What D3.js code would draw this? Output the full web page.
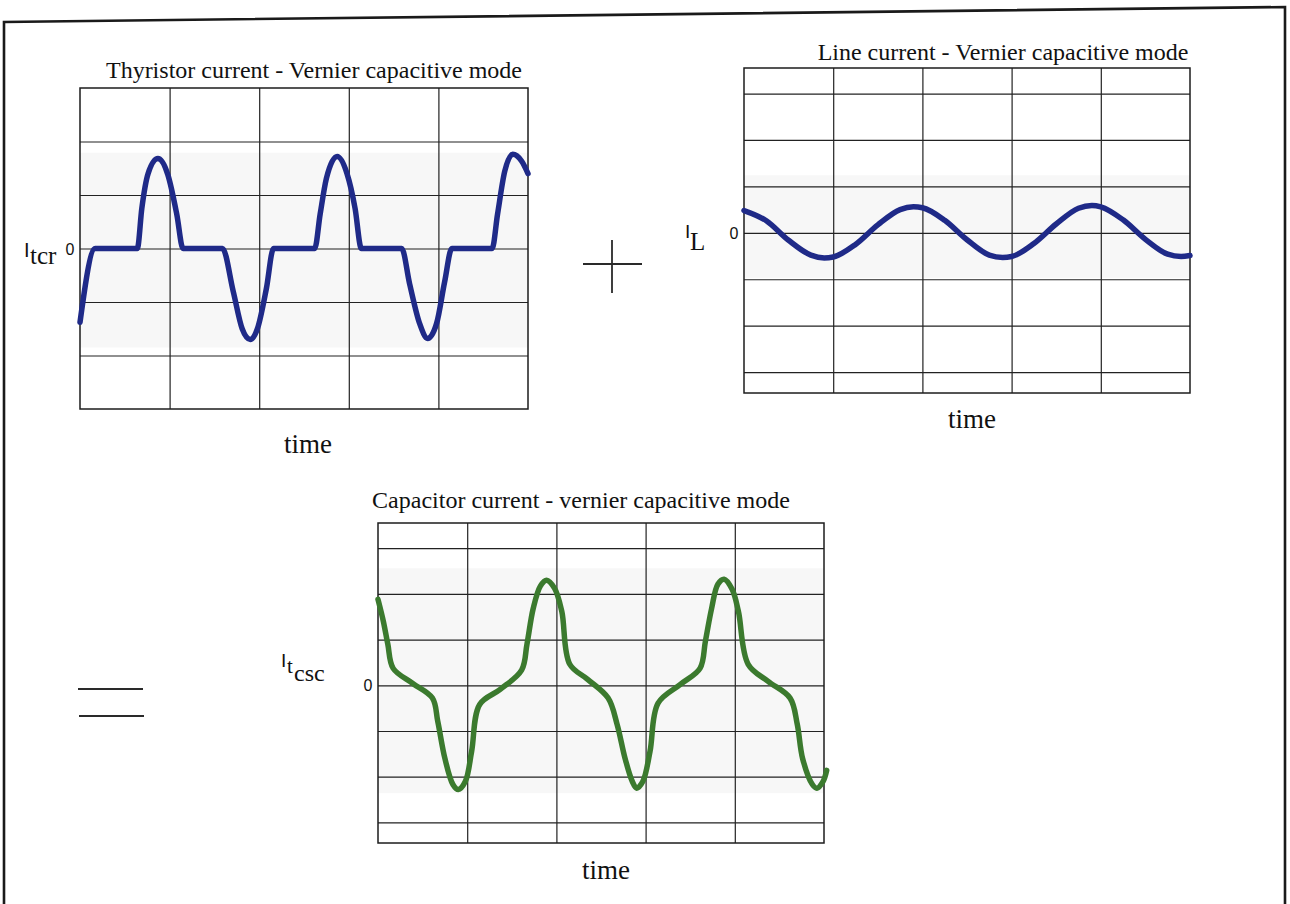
<!DOCTYPE html>
<html>
<head>
<meta charset="utf-8">
<script src="https://cdn.jsdelivr.net/npm/d3@7"></script>
<style>
  html, body { margin: 0; padding: 0; background: #ffffff; }
  svg { display: block; }
  .serif { font-family: "Liberation Serif", "Times New Roman", serif; fill: #111; }
  .sans { font-family: "Liberation Sans", Arial, sans-serif; fill: #111; }
</style>
</head>
<body>
<svg id="chart" width="1290" height="904"></svg>
<script>
// Time axis: five grid divisions per scope
const timeDomain = [0, 5];
const timeGrid = [1, 2, 3, 4];
const zeroTickLabel = "0";

// Thyristor (TCR) current, vernier capacitive mode
const tcrTime  = [0.00, 0.17, 0.64, 0.69, 0.76, 0.87, 0.98, 1.08, 1.15, 1.59, 1.71, 1.81, 1.90, 1.98, 2.08, 2.16,
                  2.62, 2.68, 2.75, 2.87, 2.98, 3.07, 3.14, 3.59, 3.68, 3.79, 3.88, 3.98, 4.07, 4.15, 4.60, 4.66,
                  4.74, 4.83, 4.93, 5.00];
const tcrValue = [-1.38, 0.00, 0.00, 0.75, 1.40, 1.68, 1.38, 0.64, 0.00, 0.00, -0.80, -1.50, -1.70, -1.50, -0.75, 0.00,
                  0.00, 0.64, 1.31, 1.72, 1.40, 0.75, 0.00, 0.00, -0.67, -1.40, -1.68, -1.40, -0.62, 0.00, 0.00, 0.64,
                  1.44, 1.76, 1.63, 1.40];

// Line current, vernier capacitive mode
const lineTime  = [0.00, 0.25, 0.50, 0.75, 0.90, 1.00, 1.25, 1.50, 1.75, 1.90, 2.00, 2.25, 2.50, 2.75, 2.90, 3.00,
                   3.25, 3.50, 3.75, 3.90, 4.00, 4.25, 4.50, 4.75, 4.90, 5.00];
const lineValue = [0.48, 0.26, -0.16, -0.48, -0.54, -0.52, -0.25, 0.17, 0.50, 0.56, 0.54, 0.27, -0.15, -0.48, -0.53, -0.51,
                   -0.23, 0.19, 0.53, 0.59, 0.56, 0.28, -0.14, -0.46, -0.51, -0.49];

// Capacitor (TCSC) current, vernier capacitive mode
const cscTime  = [0.00, 0.06, 0.11, 0.17, 0.39, 0.61, 0.67, 0.75, 0.84, 0.90, 0.98, 1.05, 1.14, 1.37, 1.61, 1.67,
                  1.74, 1.82, 1.89, 1.98, 2.06, 2.15, 2.35, 2.58, 2.68, 2.77, 2.85, 2.90, 2.97, 3.05, 3.14, 3.39,
                  3.61, 3.67, 3.74, 3.81, 3.88, 3.97, 4.04, 4.15, 4.37, 4.62, 4.70, 4.76, 4.87, 4.92, 4.99, 5.03];
const cscValue = [1.88, 1.40, 0.90, 0.37, 0.04, -0.28, -0.79, -1.60, -2.17, -2.28, -2.10, -1.44, -0.42, -0.09, 0.33, 0.90,
                  1.68, 2.17, 2.30, 2.12, 1.62, 0.46, 0.13, -0.28, -0.85, -1.60, -2.10, -2.25, -2.10, -1.44, -0.39, 0.02,
                  0.37, 0.96, 1.68, 2.21, 2.32, 2.10, 1.62, 0.46, 0.09, -0.28, -0.85, -1.60, -2.17, -2.25, -2.10, -1.86];

const svg = d3.select("#chart");

// Page frame (slightly tilted top edge)
svg.append("path")
  .attr("d", d3.line()([[4, 904], [4, 22], [1285, 7], [1285, 904]]))
  .attr("fill", "none").attr("stroke", "#1a1a1a").attr("stroke-width", 2.6);

function drawScope(o) {
  const x = d3.scaleLinear().domain(timeDomain).range([o.left, o.right]);
  const y = d3.scaleLinear().domain(o.yDomain).range([o.bottom, o.top]);
  const g = svg.append("g");

  // faint trace band
  g.append("rect")
    .attr("x", o.left).attr("width", o.right - o.left)
    .attr("y", y(o.band[1])).attr("height", y(o.band[0]) - y(o.band[1]))
    .attr("fill", "#f7f7f7");

  // grid
  const gx = g.append("g").attr("transform", `translate(0,${o.bottom})`)
    .call(d3.axisBottom(x).tickValues(timeGrid).tickSize(-(o.bottom - o.top)).tickFormat(""));
  const gy = g.append("g").attr("transform", `translate(${o.left},0)`)
    .call(d3.axisLeft(y).tickValues(o.yGrid).tickSize(-(o.right - o.left)).tickFormat(""));
  [gx, gy].forEach(a => {
    a.select(".domain").remove();
    a.selectAll("line").attr("stroke", "#222").attr("stroke-width", 1.2);
  });

  g.append("rect")
    .attr("x", o.left).attr("y", o.top)
    .attr("width", o.right - o.left).attr("height", o.bottom - o.top)
    .attr("fill", "none").attr("stroke", "#1c1c1c").attr("stroke-width", 1.5);

  // waveform
  const line = d3.line().x(d => x(d[0])).y(d => y(d[1])).curve(o.curve);
  g.append("path")
    .datum(d3.zip(o.t, o.v))
    .attr("d", line)
    .attr("fill", "none")
    .attr("stroke", o.color).attr("stroke-width", 5.5)
    .attr("stroke-linejoin", "round").attr("stroke-linecap", "round");

  // title, axis names, zero label
  g.append("text").attr("class", "serif")
    .attr("x", o.titleX).attr("y", o.titleY).attr("text-anchor", "middle")
    .style("font-size", "24px").text(o.title);
  g.append("text").attr("class", "serif")
    .attr("x", (o.left + o.right) / 2 + o.timeDx).attr("y", o.bottom + o.timeDy)
    .attr("text-anchor", "middle").style("font-size", "27px").text("time");
  g.append("text").attr("class", "sans")
    .attr("x", o.zeroX).attr("y", y(0) + 6).attr("text-anchor", "middle")
    .style("font-size", "16px").text(zeroTickLabel);
  o.label(g, y(0));
}

drawScope({
  left: 80, right: 528, top: 88, bottom: 409,
  yDomain: [-3, 3], yGrid: [-2, -1, 0, 1, 2], band: [-1.85, 1.79],
  t: tcrTime, v: tcrValue, color: "#1f2a88", curve: d3.curveMonotoneX,
  title: "Thyristor current - Vernier capacitive mode", titleX: 314, titleY: 78,
  timeDx: 4, timeDy: 44, zeroX: 70,
  label: (g, y0) => {
    g.append("text").attr("class", "sans").attr("x", 24).attr("y", y0 + 8).style("font-size", "20px").text("I");
    g.append("text").attr("class", "serif").attr("x", 30).attr("y", y0 + 15).style("font-size", "25px").text("tcr");
  }
});

drawScope({
  left: 744, right: 1190, top: 68, bottom: 393,
  yDomain: [-3.45, 3.55], yGrid: [-3, -2, -1, 0, 1, 2, 3], band: [-0.97, 1.24],
  t: lineTime, v: lineValue, color: "#1f2a88", curve: d3.curveMonotoneX,
  title: "Line current - Vernier capacitive mode", titleX: 1003, titleY: 60,
  timeDx: 5, timeDy: 35, zeroX: 734,
  label: (g, y0) => {
    g.append("text").attr("class", "sans").attr("x", 685).attr("y", y0 + 5).style("font-size", "19px").text("I");
    g.append("text").attr("class", "serif").attr("x", 690).attr("y", y0 + 17).style("font-size", "25px").text("L");
  }
});

drawScope({
  left: 378, right: 824, top: 523, bottom: 843,
  yDomain: [-3.45, 3.55], yGrid: [-3, -2, -1, 0, 1, 2, 3], band: [-2.36, 2.56],
  t: cscTime, v: cscValue, color: "#3b7a2e", curve: d3.curveCatmullRom.alpha(0.5),
  title: "Capacitor current - vernier capacitive mode", titleX: 581, titleY: 508,
  timeDx: 5, timeDy: 36, zeroX: 368,
  label: (g, y0) => {
    g.append("text").attr("class", "sans").attr("x", 281).attr("y", y0 - 18).style("font-size", "19px").text("I");
    g.append("text").attr("class", "serif").attr("x", 287).attr("y", y0 - 12).style("font-size", "21px").text("t");
    g.append("text").attr("class", "serif").attr("x", 294).attr("y", y0 - 4).style("font-size", "24px").text("csc");
  }
});

// Operators between the scopes: plus and equals
const ops = svg.append("g").attr("stroke", "#2a2a2a").attr("stroke-width", 1.8);
ops.append("line").attr("x1", 583).attr("x2", 642).attr("y1", 264).attr("y2", 264);
ops.append("line").attr("x1", 612).attr("x2", 612).attr("y1", 240).attr("y2", 293);
ops.append("line").attr("x1", 78).attr("x2", 143).attr("y1", 689).attr("y2", 689);
ops.append("line").attr("x1", 79).attr("x2", 144).attr("y1", 716).attr("y2", 716);
</script>
</body>
</html>
